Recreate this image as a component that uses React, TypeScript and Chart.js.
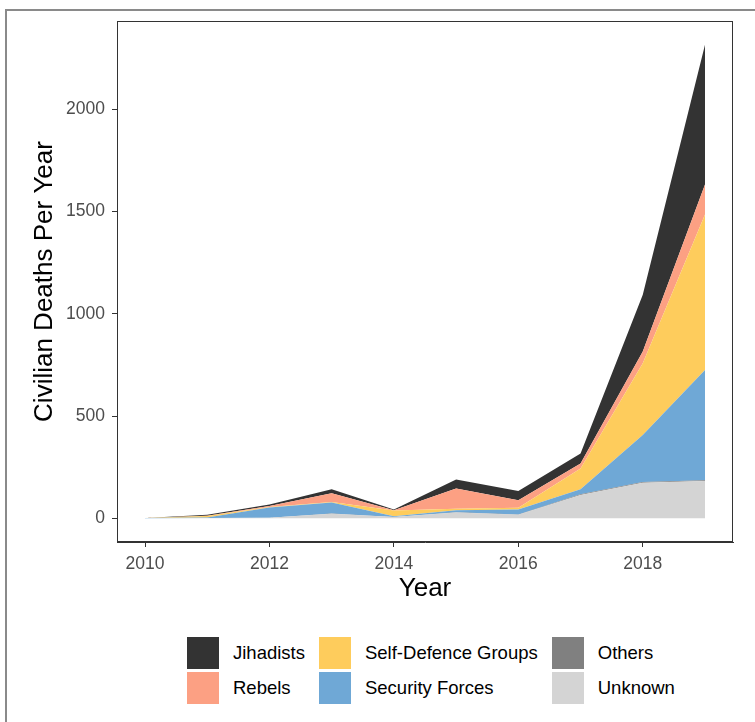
import React, { useEffect, useRef } from 'react';
import { Chart, registerables } from 'chart.js';

Chart.register(...registerables);

const FONT = "'Liberation Sans', Arial, sans-serif";

// data
const years = [2010, 2011, 2012, 2013, 2014, 2015, 2016, 2017, 2018, 2019];
const xTicks = [2010, 2012, 2014, 2016, 2018];
const yTicks = [0, 500, 1000, 1500, 2000];

const unknown = [0, 1, 3, 22, 6, 28, 17, 114, 174, 182];
const others = [0, 0, 0, 1, 1, 2, 2, 4, 4, 4];
const securityForces = [1, 3, 50, 54, 3, 9, 24, 24, 229, 539];
const selfDefence = [0, 7, 2, 3, 28, 8, 9, 102, 351, 760];
const rebels = [0, 2, 5, 42, 2, 99, 36, 24, 57, 147];
const jihadists = [0, 4, 7, 20, 3, 44, 46, 49, 278, 683];

// bottom of the stack first
const series = [
  { label: 'Unknown', values: unknown, color: '#D4D4D4' },
  { label: 'Others', values: others, color: '#808080' },
  { label: 'Security Forces', values: securityForces, color: '#6FA8D6' },
  { label: 'Self-Defence Groups', values: selfDefence, color: '#FECC5C' },
  { label: 'Rebels', values: rebels, color: '#FCA083' },
  { label: 'Jihadists', values: jihadists, color: '#333333' },
];

// legend is column-major, top of stack first
const legendOrder = ['Jihadists', 'Rebels', 'Self-Defence Groups', 'Security Forces', 'Others', 'Unknown'];

const panelBorder = {
  id: 'panelBorder',
  afterDraw(chart: Chart) {
    const { ctx, chartArea } = chart;
    ctx.save();
    ctx.strokeStyle = '#333333';
    ctx.lineWidth = 1;
    ctx.strokeRect(chartArea.left + 0.5, chartArea.top + 0.5, chartArea.right - chartArea.left - 1, chartArea.bottom - chartArea.top - 1);
    ctx.restore();
  },
};

const AreaChart: React.FC = () => {
  const chartRef = useRef<HTMLCanvasElement>(null);
  const chartInstanceRef = useRef<Chart | null>(null);

  useEffect(() => {
    if (!chartRef.current) return;
    const totals = years.map((_, i) => series.reduce((s, d) => s + d.values[i], 0));
    const maxTotal = Math.max(...totals);
    const pad = maxTotal * 0.05;

    chartInstanceRef.current = new Chart(chartRef.current, {
      type: 'line',
      data: {
        datasets: series.map((s, i) => ({
          label: s.label,
          data: years.map((y, j) => ({ x: y, y: s.values[j] })),
          backgroundColor: s.color,
          borderColor: s.color,
          borderWidth: 0,
          pointRadius: 0,
          tension: 0,
          fill: i === 0 ? 'origin' : '-1',
        })),
      },
      options: {
        animation: false,
        responsive: true,
        maintainAspectRatio: false,
        layout: { padding: { left: 0, right: 22, top: 21, bottom: 0 } },
        plugins: {
          legend: { display: false },
          tooltip: { enabled: false },
        },
        scales: {
          x: {
            type: 'linear',
            min: 2009.55,
            max: 2019.45,
            afterBuildTicks: (scale: any) => {
              scale.ticks = xTicks.map(v => ({ value: v }));
            },
            afterFit: (scale: any) => {
              scale.height = 70;
            },
            grid: { display: true, drawOnChartArea: false, drawTicks: true, tickLength: 5, color: '#333333' },
            border: { display: true, color: '#333333' },
            ticks: {
              color: '#4D4D4D',
              font: { family: FONT, size: 17.5 },
              padding: 7,
              maxRotation: 0,
              callback: (v: any) => String(v),
            },
            title: {
              display: true,
              text: 'Year',
              color: '#000000',
              font: { family: FONT, size: 26 },
              padding: { top: 0, bottom: 8 },
            },
          },
          y: {
            stacked: true,
            min: -pad,
            max: maxTotal + pad,
            afterBuildTicks: (scale: any) => {
              scale.ticks = yTicks.map(v => ({ value: v }));
            },
            afterFit: (scale: any) => {
              scale.width = 117;
            },
            grid: { display: true, drawOnChartArea: false, drawTicks: true, tickLength: 5, color: '#333333' },
            border: { display: true, color: '#333333' },
            ticks: {
              color: '#4D4D4D',
              font: { family: FONT, size: 17.5 },
              padding: 7,
              callback: (v: any) => String(v),
            },
            title: {
              display: true,
              text: 'Civilian Deaths Per Year',
              color: '#000000',
              font: { family: FONT, size: 26 },
              padding: { top: 29, bottom: 0 },
            },
          },
        },
      },
      plugins: [panelBorder],
    });

    return () => {
      if (chartInstanceRef.current) {
        chartInstanceRef.current.destroy();
        chartInstanceRef.current = null;
      }
    };
  }, []);

  return (
    <div style={{ position: 'absolute', left: 0, top: 0, width: 755, height: 612 }}>
      <canvas ref={chartRef} />
    </div>
  );
};

const Legend: React.FC = () => (
  <div
    style={{
      position: 'absolute',
      left: 187,
      top: 637,
      display: 'grid',
      gridTemplateRows: 'repeat(2, 34.5px)',
      gridAutoFlow: 'column',
      columnGap: 14,
      fontFamily: FONT,
      fontSize: 18.5,
      color: '#000000',
    }}
  >
    {legendOrder.map(name => {
      const s = series.find(d => d.label === name)!;
      return (
        <div key={name} style={{ display: 'flex', alignItems: 'flex-start' }}>
          <div style={{ width: 32, height: 32, background: s.color }} />
          <span style={{ marginLeft: 14, lineHeight: '32px', whiteSpace: 'nowrap' }}>{name}</span>
        </div>
      );
    })}
  </div>
);

export default function App() {
  return (
    <div style={{ position: 'absolute', left: 0, top: 0, width: 755, height: 722, overflow: 'hidden', background: '#ffffff' }}>
      <div
        style={{
          position: 'absolute',
          left: 5,
          top: 9,
          width: 750,
          height: 713,
          boxSizing: 'border-box',
          borderTop: '2px solid #8A8A8A',
          borderLeft: '2px solid #8A8A8A',
        }}
      />
      <AreaChart />
      <Legend />
    </div>
  );
}
